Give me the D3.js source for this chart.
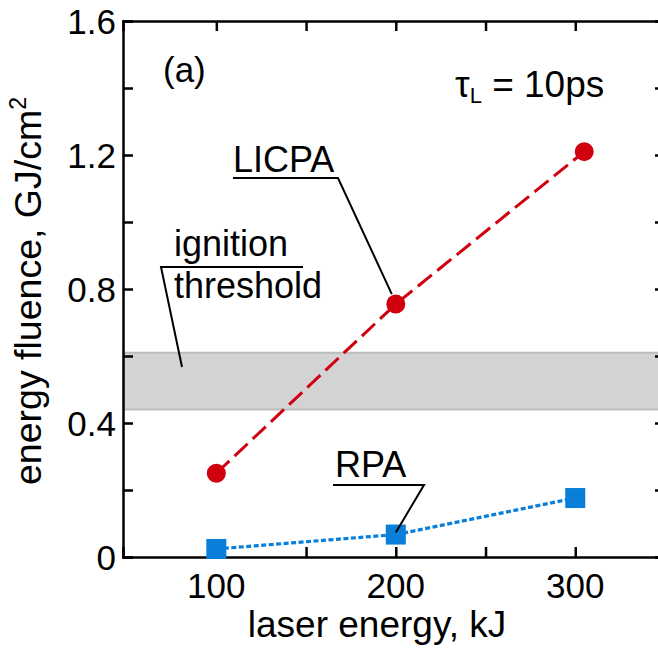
<!DOCTYPE html>
<html><head><meta charset="utf-8">
<script src="https://cdn.jsdelivr.net/npm/d3@7"></script>
<style>html,body{margin:0;padding:0;background:#fff;}svg{display:block;font-family:"Liberation Sans",Arial,sans-serif;}</style>
</head><body>
<script>
// ---- data ----
const licpaEnergy = [100, 200, 305];
const licpaFluence = [0.25, 0.755, 1.21];
const rpaEnergy = [100, 200, 300];
const rpaFluence = [0.024, 0.067, 0.176];
const thresholdBand = [0.44, 0.61];
const yTickValues = [0, 0.4, 0.8, 1.2, 1.6];
const yTickLabels = ["0", "0.4", "0.8", "1.2", "1.6"];
const yMinorTicks = [0.2, 0.6, 1.0, 1.4];
const xTickValues = [100, 200, 300];
const xTickLabels = ["100", "200", "300"];
const xMinorTicks = [150, 250];

const W = 658, H = 650;
const L = 123, R = 665, T = 21, B = 557;
const svg = d3.select("body").append("svg").attr("width", W).attr("height", H);

const x = d3.scaleLinear().domain([48, 350]).range([L, R]);
const y = d3.scaleLinear().domain([0, 1.6]).range([B, T]);

// threshold band
svg.append("rect").attr("x", L).attr("width", R - L)
  .attr("y", y(thresholdBand[1])).attr("height", y(thresholdBand[0]) - y(thresholdBand[1]))
  .attr("fill", "#d3d3d3");
[thresholdBand[0], thresholdBand[1]].forEach(v => {
  svg.append("line").attr("x1", L).attr("x2", R).attr("y1", y(v)).attr("y2", y(v))
    .attr("stroke", "#bdbdbd").attr("stroke-width", 2);
});

// axes with inward ticks
const tickLen = 10;
const allX = xTickValues.concat(xMinorTicks);
const allY = yTickValues.concat(yMinorTicks);
const gB = svg.append("g").attr("transform", `translate(0,${B})`)
  .call(d3.axisBottom(x).tickValues(allX).tickSize(-tickLen).tickFormat(""));
const gT = svg.append("g").attr("transform", `translate(0,${T})`)
  .call(d3.axisTop(x).tickValues(allX).tickSize(-tickLen).tickFormat(""));
const gL = svg.append("g").attr("transform", `translate(${L},0)`)
  .call(d3.axisLeft(y).tickValues(allY).tickSize(-tickLen).tickFormat(""));
const gR = svg.append("g").attr("transform", `translate(${R},0)`)
  .call(d3.axisRight(y).tickValues(allY).tickSize(-tickLen).tickFormat(""));
[gB, gT, gL, gR].forEach(g => {
  g.select(".domain").attr("stroke", "#000").attr("stroke-width", 2.5);
  g.selectAll(".tick line").attr("stroke", "#000").attr("stroke-width", 2.5);
});

// tick labels
svg.append("g").selectAll("text").data(yTickValues).join("text")
  .attr("x", L - 7).attr("y", d => y(d)).attr("dy", "0.36em")
  .attr("text-anchor", "end").attr("font-size", 35).text((d, i) => yTickLabels[i]);
svg.append("g").selectAll("text").data(xTickValues).join("text")
  .attr("x", d => x(d)).attr("y", 598)
  .attr("text-anchor", "middle").attr("font-size", 35).text((d, i) => xTickLabels[i]);

// axis titles
svg.append("text").attr("x", 377).attr("y", 637).attr("text-anchor", "middle")
  .attr("font-size", 37).text("laser energy, kJ");
const yt = svg.append("text").attr("transform", `translate(41,291) rotate(-90)`)
  .attr("text-anchor", "middle").attr("font-size", 37.5);
yt.append("tspan").text("energy fluence, GJ/cm");
yt.append("tspan").attr("font-size", 23).attr("dy", -15).text("2");

// lines
const line = d3.line().x(d => x(d[0])).y(d => y(d[1]));
const licpa = licpaEnergy.map((e, i) => [e, licpaFluence[i]]);
const rpa = rpaEnergy.map((e, i) => [e, rpaFluence[i]]);
const red = "#d0000f", blue = "#0a7fd9";
svg.append("path").datum(licpa).attr("d", line).attr("fill", "none")
  .attr("stroke", red).attr("stroke-width", 3).attr("stroke-dasharray", "18,7");
svg.append("path").datum(rpa).attr("d", line).attr("fill", "none")
  .attr("stroke", blue).attr("stroke-width", 3.2).attr("stroke-dasharray", "5,2.5");
svg.append("g").selectAll("circle").data(licpa).join("circle")
  .attr("cx", d => x(d[0])).attr("cy", d => y(d[1])).attr("r", 9.5).attr("fill", red);
svg.append("g").selectAll("rect").data(rpa).join("rect")
  .attr("x", d => x(d[0]) - 10).attr("y", d => y(d[1]) - 10)
  .attr("width", 20).attr("height", 20).attr("fill", blue);

// annotations
svg.append("text").attr("x", 163).attr("y", 82).attr("font-size", 35).text("(a)");
const tau = svg.append("text").attr("x", 455).attr("y", 97).attr("font-size", 37);
tau.append("tspan").text("τ");
tau.append("tspan").attr("font-size", 22).attr("dy", 6).text("L");
tau.append("tspan").attr("dy", -6).text(" = 10ps");

const ann = svg.append("g").attr("stroke", "#000").attr("stroke-width", 2).attr("fill", "none");
svg.append("text").attr("x", 233).attr("y", 172).attr("font-size", 36).text("LICPA");
ann.append("path").attr("d", `M233,178 L338,178 L${x(200) - 4},${y(0.755) - 10}`);
svg.append("text").attr("x", 174).attr("y", 256).attr("font-size", 36).text("ignition");
svg.append("text").attr("x", 174).attr("y", 298).attr("font-size", 36).text("threshold");
ann.append("path").attr("d", `M303,267 L161,267 L182,367`);
svg.append("text").attr("x", 335).attr("y", 477).attr("font-size", 36).text("RPA");
ann.append("path").attr("d", `M333,485 L424,485 L${x(200)},${y(0.067) - 2}`);
</script>
</body></html>
